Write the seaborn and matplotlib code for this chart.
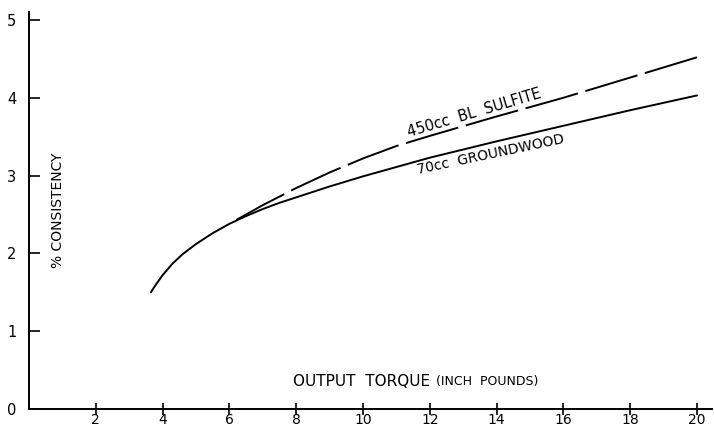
import matplotlib
matplotlib.use("Agg")
import matplotlib.pyplot as plt
import seaborn as sns
import pandas as pd

# Data
groundwood_x = [3.65, 3.8, 4.0, 4.3, 4.6, 5.0, 5.5, 6.0, 6.5, 7.0, 7.5, 8.0, 9.0, 10.0, 12.0, 14.0, 16.0, 18.0, 20.0]
groundwood_y = [1.50, 1.60, 1.72, 1.87, 1.99, 2.12, 2.26, 2.38, 2.48, 2.57, 2.65, 2.72, 2.86, 2.99, 3.23, 3.44, 3.64, 3.84, 4.03]
sulfite_x = [6.0, 6.5, 7.0, 7.5, 8.0, 9.0, 10.0, 11.0, 12.0, 14.0, 16.0, 18.0, 20.0]
sulfite_y = [2.38, 2.50, 2.62, 2.73, 2.84, 3.04, 3.22, 3.38, 3.51, 3.76, 4.00, 4.26, 4.52]
x_ticks = [2, 4, 6, 8, 10, 12, 14, 16, 18, 20]
y_ticks = [0, 1, 2, 3, 4, 5]

sns.set_style("ticks")
plt.rcParams['font.family'] = ['DejaVu Sans']
plt.rcParams['text.color'] = 'black'

fig = plt.figure(figsize=(7.14, 4.29), dpi=100)
ax = fig.add_axes([0.0406, 0.0466, 0.9566, 0.925])

gw = pd.DataFrame({"x": groundwood_x, "y": groundwood_y})
sf = pd.DataFrame({"x": sulfite_x, "y": sulfite_y}).iloc[::-1]
sns.lineplot(data=gw, x="x", y="y", ax=ax, color="black", lw=1.4)
# drawn from the right end so the dash pattern ends cleanly at x=20
sns.lineplot(data=sf, x="x", y="y", ax=ax, color="black", lw=1.4, sort=False,
             linestyle=(0, (28, 4)))

ax.set_xlim(0, 20.45)
ax.set_ylim(0, 5.1)
ax.set_xticks(x_ticks)
ax.set_xticklabels([str(v) for v in x_ticks], fontsize=10)
ax.set_yticks(y_ticks)
ax.set_yticklabels([str(v) for v in y_ticks], fontsize=10.5)
ax.tick_params(axis="x", direction="inout", length=8, width=1.2, pad=-1,
               colors="black", labelcolor="black")
ax.tick_params(axis="y", direction="in", length=8, width=1.2, pad=9,
               colors="black", labelcolor="black")
ax.set_xlabel("")
ax.set_ylabel("")
sns.despine(ax=ax)
for s in ("left", "bottom"):
    ax.spines[s].set_linewidth(1.4)
    ax.spines[s].set_color("black")

ax.text(7.9, 0.35, "OUTPUT  TORQUE", fontsize=11, va="center", ha="left", color="black")
ax.text(12.2, 0.35, "(INCH  POUNDS)", fontsize=9, va="center", ha="left", color="black")
ax.text(0.87, 2.55, "% CONSISTENCY", fontsize=10, rotation=90, va="center", ha="center", color="black")
ax.text(13.32, 3.80, "450cc  BL  SULFITE", fontsize=10.5, rotation=16.5,
        va="center", ha="center", rotation_mode="anchor", color="black")
ax.text(13.83, 3.27, "70cc  GROUNDWOOD", fontsize=10, rotation=12,
        va="center", ha="center", rotation_mode="anchor", color="black")

fig.savefig("out.png", dpi=100)
